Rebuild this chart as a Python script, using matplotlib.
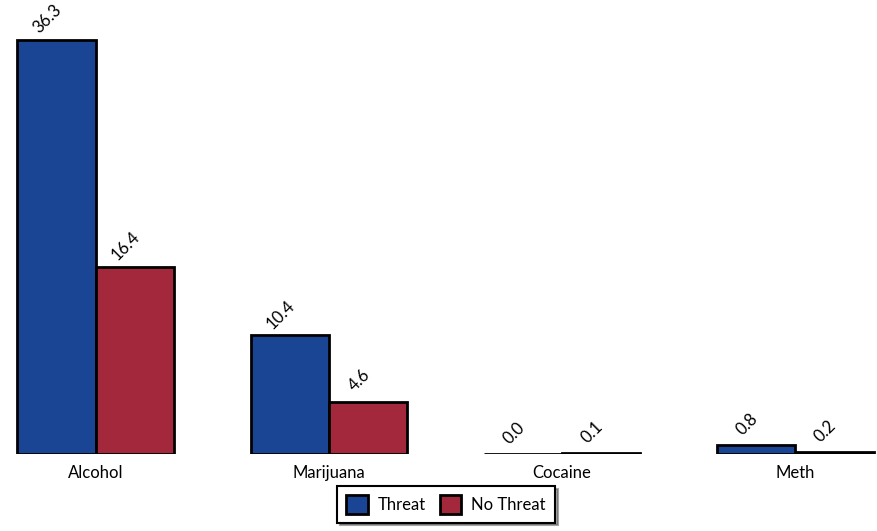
import matplotlib
matplotlib.use("Agg")
import matplotlib.pyplot as plt
import numpy as np

categories = ["Alcohol", "Marijuana", "Cocaine", "Meth"]
threat = [36.3, 10.4, 0.0, 0.8]
no_threat = [16.4, 4.6, 0.1, 0.2]
series_names = ["Threat", "No Threat"]
colors = ["#1a4494", "#a4283c"]

plt.rcParams['font.family'] = ['Lato', 'DejaVu Sans']

fig = plt.figure(figsize=(8.78, 5.31), dpi=100)
ax = fig.add_axes([14/878, 77/531, 863/878, 1 - 77/531])

x = np.arange(len(categories))
w = 0.335
b1 = ax.bar(x - w/2, threat, w, color=colors[0], edgecolor="black", linewidth=2, label=series_names[0])
b2 = ax.bar(x + w/2, no_threat, w, color=colors[1], edgecolor="black", linewidth=2, label=series_names[1])

for bars, vals in ((b1, threat), (b2, no_threat)):
    for r, v in zip(bars, vals):
        ax.annotate(f"{v:.1f}", (r.get_x() + r.get_width()/2, r.get_height()),
                    xytext=(-6.5, 15), textcoords="offset points",
                    ha="center", va="center", rotation=45,
                    fontsize=12, clip_on=False)

ax.set_xlim(-0.35, 3.35)
ax.set_ylim(0, 454/414*36.3)
ax.set_xticks(x)
ax.set_xticklabels(categories, fontsize=12)
ax.tick_params(axis="x", length=0, pad=8)
ax.set_yticks([])
for s in ax.spines.values():
    s.set_visible(False)

leg = fig.legend(loc="lower center", bbox_to_anchor=(0.508, 0.0), ncol=2, fontsize=12,
                 frameon=True, fancybox=False, shadow=True, edgecolor="black",
                 handlelength=1.3, handleheight=1.3, columnspacing=0.8, handletextpad=0.6,
                 borderpad=0.55)
leg.get_frame().set_linewidth(1.5)

fig.savefig("out.png", dpi=100)
